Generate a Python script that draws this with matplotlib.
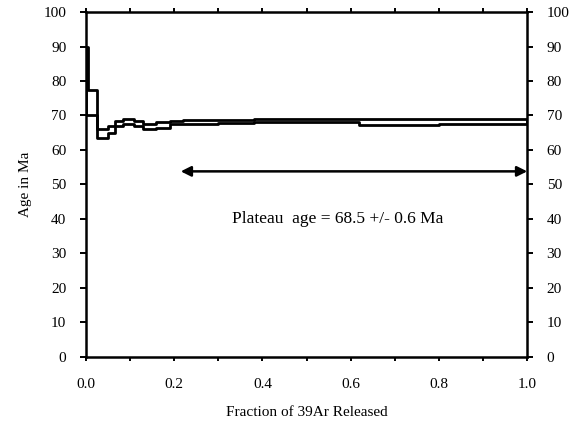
import numpy as np
import matplotlib
matplotlib.use('Agg')
import matplotlib.pyplot as plt

# step edges (cumulative fraction of 39Ar released)
edges = [0.0, 0.004, 0.025, 0.05, 0.065, 0.085, 0.11, 0.13, 0.16, 0.19,
         0.22, 0.30, 0.38, 0.50, 0.62, 0.80, 1.0]
age_hi = [90.0, 77.5, 66.0, 67.0, 68.5, 69.0, 68.5, 67.5, 68.0, 68.5,
          68.8, 68.8, 69.0, 69.0, 69.0, 69.0]
age_lo = [70.0, 70.0, 63.5, 65.0, 67.0, 67.5, 67.0, 66.0, 66.5, 67.5,
          67.5, 67.8, 68.0, 68.0, 67.3, 67.5]

plateau_start = 0.215
plateau_end = 1.0
arrow_y = 53.8
label = 'Plateau  age = 68.5 +/- 0.6 Ma'

plt.rcParams['font.family'] = ['Liberation Serif', 'DejaVu Serif']

fig = plt.figure(figsize=(5.8, 4.3), dpi=100)
ax = fig.add_axes([0.148, 0.170, 0.761, 0.802])

x = np.array(edges)
hi = np.append(age_hi, age_hi[-1])
lo = np.append(age_lo, age_lo[-1])
ax.step(x, hi, where='post', color='black', lw=2)
ax.step(x, lo, where='post', color='black', lw=2)
# vertical sides of the first and last boxes
ax.vlines([edges[0], edges[-1]], [age_lo[0], age_lo[-1]], [age_hi[0], age_hi[-1]],
          color='black', lw=2)

ax.annotate('', xy=(plateau_end, arrow_y), xytext=(plateau_start, arrow_y),
            arrowprops=dict(arrowstyle='<|-|>', color='black', lw=1.8,
                            mutation_scale=15, shrinkA=0, shrinkB=0))
ax.text(0.57, 40, label, ha='center', va='center', fontsize=12.5)

ax.set_xlim(0, 1.0)
ax.set_ylim(0, 100)
ax.set_xticks(np.arange(0, 1.01, 0.2))
ax.set_xticklabels(['0.0', '0.2', '0.4', '0.6', '0.8', '1.0'])
ax.set_xticks(np.arange(0, 1.01, 0.1), minor=True)
ax.set_yticks(np.arange(0, 101, 10))
ax.tick_params(axis='y', which='both', direction='out', length=4, width=1.4,
               labelsize=11, right=True, labelright=True, pad=10)
ax.tick_params(axis='x', which='both', direction='out', length=3, width=1.4,
               labelsize=11, top=True, pad=12)

for s in ax.spines.values():
    s.set_linewidth(1.8)

ax.set_xlabel('Fraction of 39Ar Released', fontsize=11, labelpad=11)
ax.set_ylabel('Age in Ma', fontsize=11, labelpad=8)

fig.savefig('out.png', dpi=100)
